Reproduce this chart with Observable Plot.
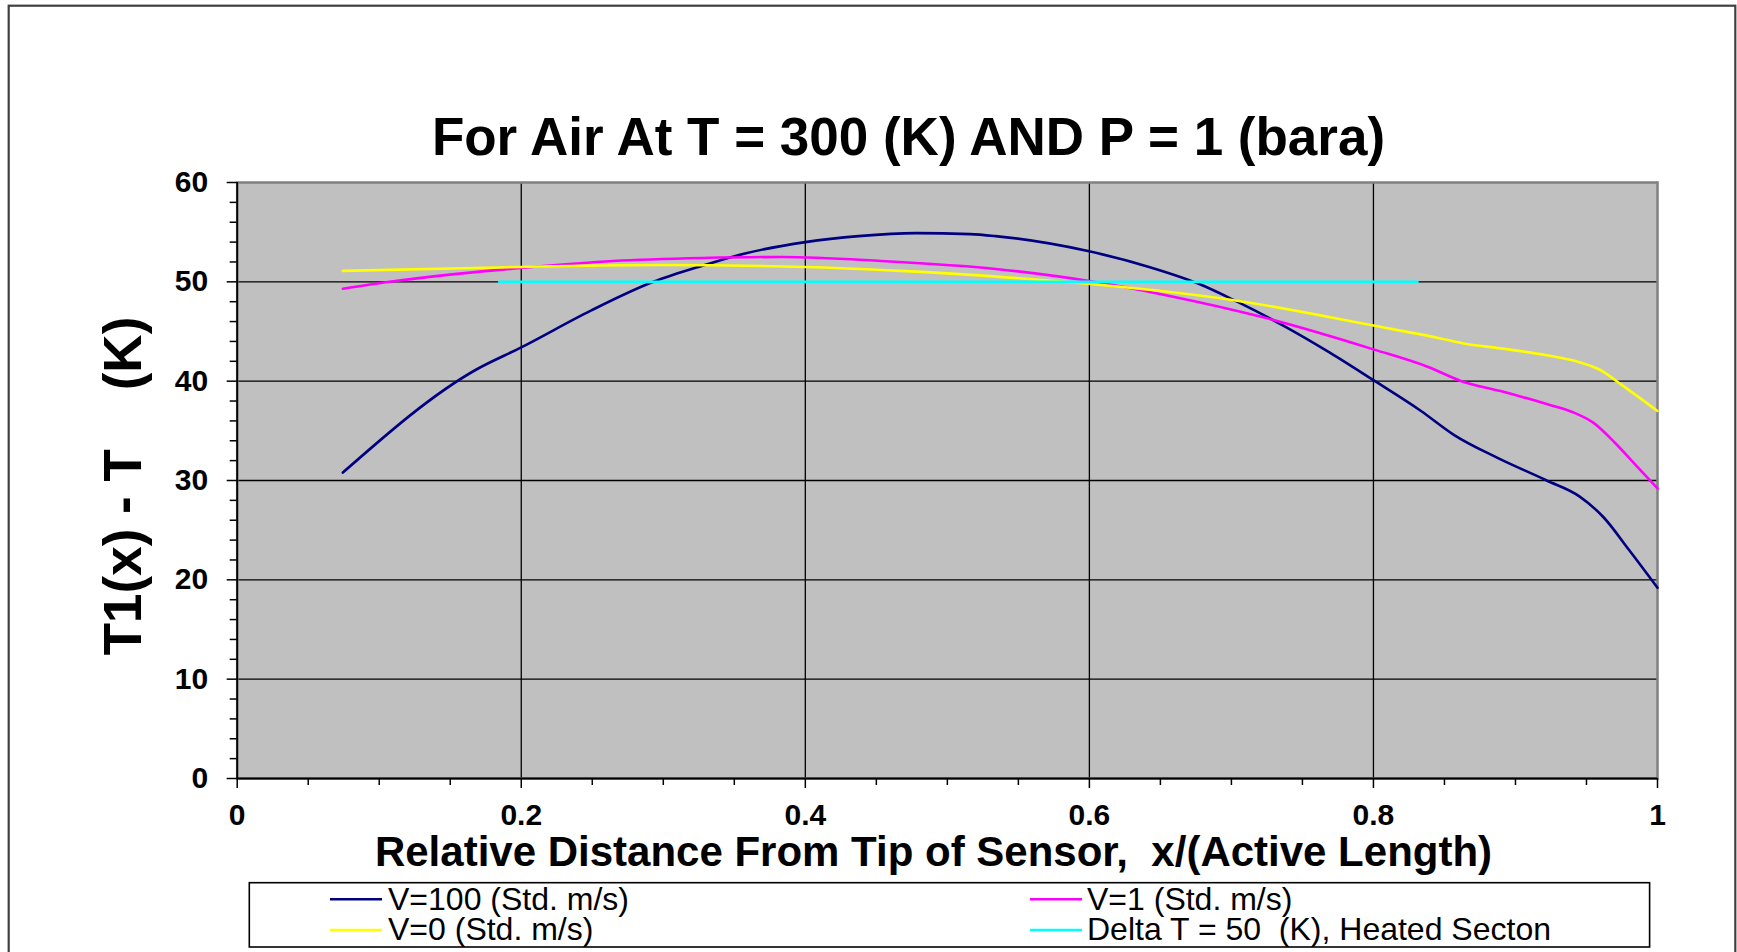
<!DOCTYPE html>
<html><head><meta charset="utf-8">
<script src="https://cdn.jsdelivr.net/npm/d3@7"></script>
<script src="https://cdn.jsdelivr.net/npm/@observablehq/plot@0.6"></script>
<style>
html,body{margin:0;padding:0;background:#fff;overflow:hidden}
svg text{white-space:pre}
</style>
</head><body><div id="chart"></div>
<script>
// ---- texts ----
const titleText = "For Air At T = 300 (K) AND P = 1 (bara)";
const xLabelText = "Relative Distance From Tip of Sensor,  x/(Active Length)";
const yLabelText = "T1(x) - T    (K)";
const seriesNames = ["V=100 (Std. m/s)", "V=1 (Std. m/s)", "V=0 (Std. m/s)", "Delta T = 50  (K), Heated Secton"];
const seriesColors = ["#000080", "#FF00FF", "#FFFF00", "#00FFFF"];

// ---- ticks ----
const xTicks = [0, 0.2, 0.4, 0.6, 0.8, 1];
const xTickLabels = ["0", "0.2", "0.4", "0.6", "0.8", "1"];
const xMinorTicks = [0.05, 0.1, 0.15, 0.25, 0.3, 0.35, 0.45, 0.5, 0.55, 0.65, 0.7, 0.75, 0.85, 0.9, 0.95];
const xGridLines = [0.2, 0.4, 0.6, 0.8];
const yTicks = [0, 10, 20, 30, 40, 50, 60];
const yMinorTicks = [2, 4, 6, 8, 12, 14, 16, 18, 22, 24, 26, 28, 32, 34, 36, 38, 42, 44, 46, 48, 52, 54, 56, 58];
const yGridLines = [10, 20, 30, 40, 50];

// ---- series ----
const v100X = [0.0744, 0.1687, 0.2, 0.249, 0.293, 0.327, 0.359, 0.400, 0.4375, 0.478, 0.516, 0.534, 0.599, 0.642, 0.677, 0.704, 0.7365, 0.769, 0.800, 0.8335, 0.8566, 0.887, 0.922, 0.945, 0.962, 0.980, 1.0];
const v100Y = [30.8, 41.2, 43.4, 47.1, 50.0, 51.6, 52.9, 54.0, 54.6, 54.9, 54.8, 54.6, 53.1, 51.5, 49.8, 48.0, 45.6, 42.9, 40.1, 37.0, 34.6, 32.3, 30.0, 28.4, 26.3, 23.0, 19.2];
const v1X = [0.0744, 0.1074, 0.1546, 0.2, 0.2646, 0.3275, 0.384, 0.4532, 0.534, 0.599, 0.6556, 0.723, 0.800, 0.839, 0.862, 0.8895, 0.922, 0.940, 0.955, 0.970, 0.985, 1.0];
const v1Y = [49.3, 50.0, 50.8, 51.4, 52.1, 52.4, 52.5, 52.1, 51.3, 50.1, 48.6, 46.4, 43.2, 41.4, 40.0, 39.0, 37.7, 36.9, 35.8, 33.8, 31.5, 29.2];
const v0X = [0.0744, 0.2, 0.296, 0.400, 0.467, 0.537, 0.599, 0.704, 0.800, 0.844, 0.8636, 0.8895, 0.922, 0.945, 0.960, 0.975, 1.0];
const v0Y = [51.1, 51.5, 51.7, 51.5, 51.1, 50.5, 49.8, 48.1, 45.6, 44.4, 43.8, 43.3, 42.6, 41.9, 41.1, 39.6, 37.0];
const deltaX = [0.1845, 0.831];
const deltaY = [50, 50];

const FONT = "'Liberation Sans', Arial, Helvetica, sans-serif";
const toRows = (xs, ys) => xs.map((x, i) => ({x, y: ys[i]}));
const seriesData = [toRows(v100X, v100Y), toRows(v1X, v1Y), toRows(v0X, v0Y), toRows(deltaX, deltaY)];

const W = 1737, H = 952;
const chart = Plot.plot({
  width: W, height: H,
  marginLeft: 236.7, marginRight: 80, marginTop: 182, marginBottom: 174,
  style: {fontFamily: FONT, background: "white", color: "black", overflow: "visible"},
  x: {domain: [0, 1], label: null},
  y: {domain: [0, 60], label: null},
  marks: [
    Plot.frame({fill: "#C0C0C0"}),
    Plot.gridY(yGridLines, {stroke: "#000", strokeOpacity: 1, strokeWidth: 1.3}),
    Plot.gridX(xGridLines, {stroke: "#000", strokeOpacity: 1, strokeWidth: 1.3}),
    Plot.frame({stroke: "#808080", strokeWidth: 2.5}),
    Plot.ruleX([0], {stroke: "#000", strokeWidth: 1.8}),
    Plot.ruleY([0], {stroke: "#000", strokeWidth: 1.8}),
    Plot.axisY(yMinorTicks, {tickSize: 7, tickFormat: () => "", stroke: "#000", strokeWidth: 1.5, label: null}),
    Plot.axisY(yTicks, {tickSize: 10, tickPadding: 19, fontSize: 30, fontWeight: "bold", stroke: "#000", strokeWidth: 1.5, label: null}),
    Plot.axisX(xMinorTicks, {tickSize: 7, tickFormat: () => "", stroke: "#000", strokeWidth: 1.5, label: null}),
    Plot.axisX(xTicks, {tickSize: 10, tickPadding: 15, fontSize: 30, fontWeight: "bold", stroke: "#000", strokeWidth: 1.5, label: null,
      tickFormat: d => xTickLabels[xTicks.indexOf(d)]}),
    ...seriesData.map((rows, i) => Plot.line(rows, {x: "x", y: "y", stroke: seriesColors[i], strokeWidth: 2.6, curve: "monotone-x"}))
  ]
});
document.getElementById("chart").appendChild(chart);

const svg = d3.select(chart);
// outer frame
svg.insert("rect", ":first-child")
  .attr("x", 8.7).attr("y", 5.7).attr("width", 1735.3 - 8.7).attr("height", 1000)
  .attr("fill", "none").attr("stroke", "#404040").attr("stroke-width", 2.2);
// title
svg.append("text").text(titleText)
  .attr("x", 908.5).attr("y", 155).attr("text-anchor", "middle")
  .attr("font-family", FONT).attr("font-weight", "bold").attr("font-size", 53).attr("fill", "#000");
// y title
svg.append("text").text(yLabelText)
  .attr("transform", "translate(141,486) rotate(-90)").attr("text-anchor", "middle")
  .attr("font-family", FONT).attr("font-weight", "bold").attr("font-size", 53).attr("fill", "#000");
// x title
svg.append("text").text(xLabelText)
  .attr("x", 933.5).attr("y", 866).attr("text-anchor", "middle")
  .attr("font-family", FONT).attr("font-weight", "bold").attr("font-size", 42).attr("fill", "#000");
// legend
const lg = svg.append("g");
lg.append("rect").attr("x", 249.3).attr("y", 882.7).attr("width", 1649.6 - 249.3).attr("height", 947 - 882.7)
  .attr("fill", "#fff").attr("stroke", "#000").attr("stroke-width", 1.6);
const legendPos = [
  {lx: 330, tx: 388, ly: 899.3, ty: 910},
  {lx: 1030, tx: 1087, ly: 899.3, ty: 910},
  {lx: 330, tx: 388, ly: 930, ty: 940},
  {lx: 1030, tx: 1087, ly: 930, ty: 940}
];
seriesNames.forEach((name, i) => {
  const p = legendPos[i];
  lg.append("line").attr("x1", p.lx).attr("x2", p.lx + 52).attr("y1", p.ly).attr("y2", p.ly)
    .attr("stroke", seriesColors[i]).attr("stroke-width", 2.6);
  lg.append("text").text(name).attr("x", p.tx).attr("y", p.ty).attr("text-anchor", "start")
    .attr("font-family", FONT).attr("font-size", 32).attr("fill", "#000");
});
</script>
</body></html>
